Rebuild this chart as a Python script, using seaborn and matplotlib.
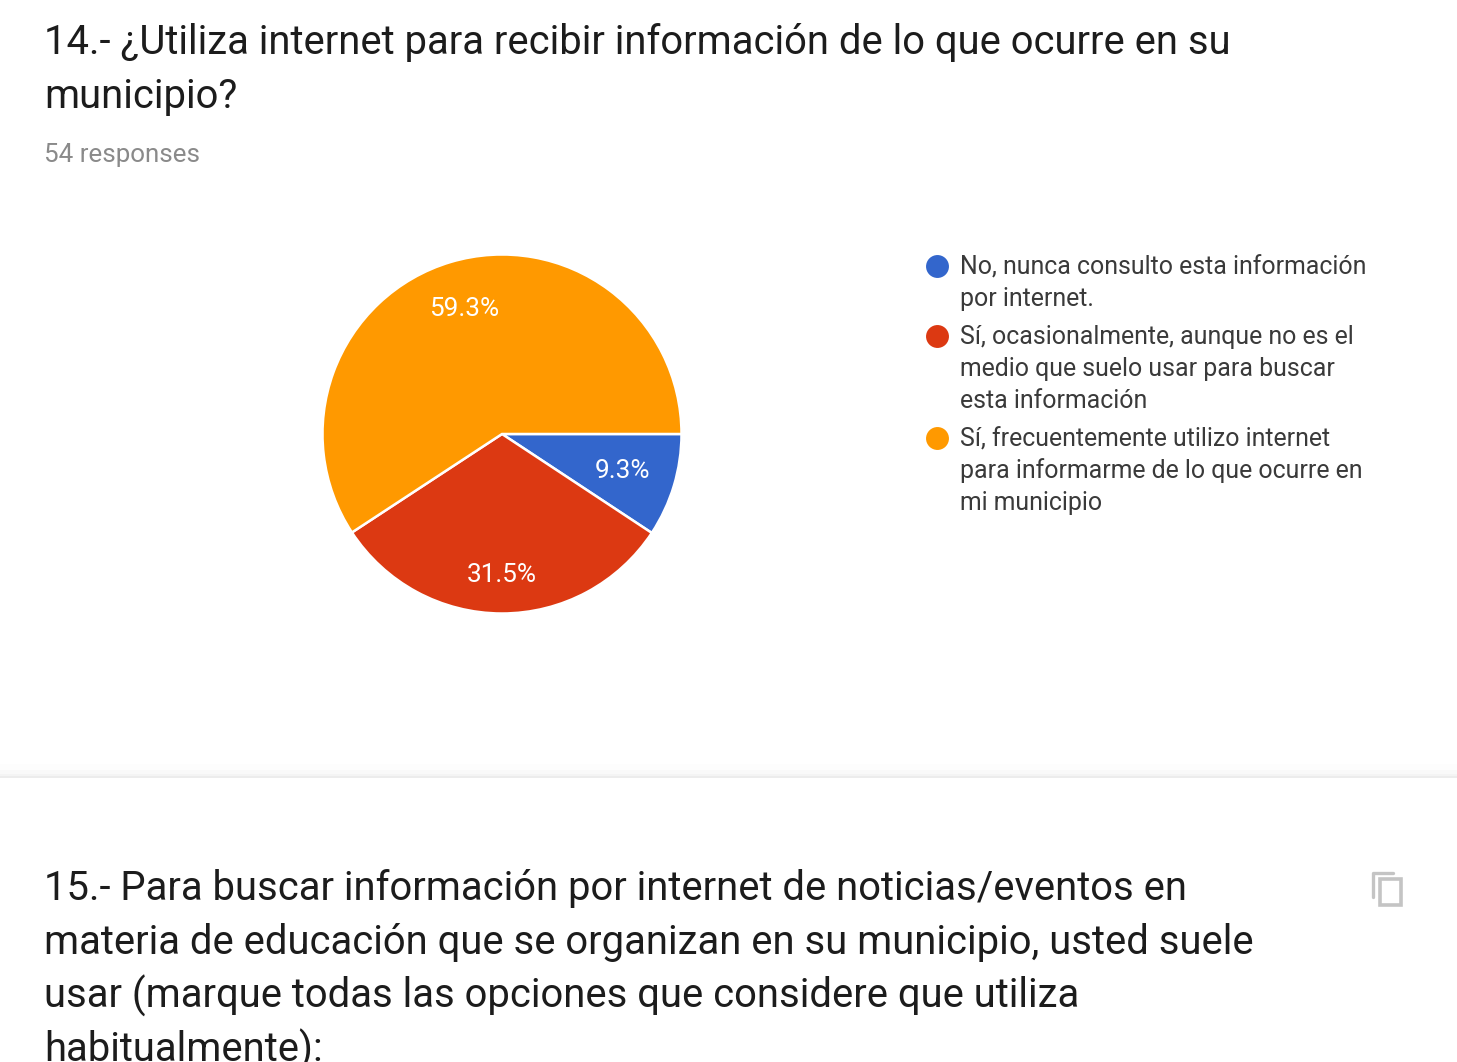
import matplotlib
matplotlib.use("Agg")
import matplotlib.pyplot as plt
import seaborn as sns
from matplotlib.patches import Rectangle

sns.set_style("white")
plt.rcParams['font.family'] = ['Roboto', 'DejaVu Sans']

W, H = 1457, 1062

labels = ["No, nunca consulto esta información\npor internet.",
          "Sí, ocasionalmente, aunque no es el\nmedio que suelo usar para buscar\nesta información",
          "Sí, frecuentemente utilizo internet\npara informarme de lo que ocurre en\nmi municipio"]
shares = [9.3, 31.5, 59.3]
pie_colors = ["#3366cc", "#dc3912", "#ff9900"]
legend_y = [266, 336, 438]

title_14 = ["14.- ¿Utiliza internet para recibir información de lo que ocurre en su", "municipio?"]
title_15 = ["15.- Para buscar información por internet de noticias/eventos en",
            "materia de educación que se organizan en su municipio, usted suele",
            "usar (marque todas las opciones que considere que utiliza",
            "habitualmente):"]

fig = plt.figure(figsize=(W / 100, H / 100), dpi=100, facecolor="white")

# page background goes on the figure so it stays behind the pie
for top, col in [(764, "#fdfdfd"), (770, "#f9f9f9"), (774, "#f4f4f4")]:
    fig.add_artist(Rectangle((0, 1 - 776 / H), 1, (776 - top) / H, color=col, lw=0, transform=fig.transFigure))
fig.add_artist(Rectangle((0, 1 - 778 / H), 1, 2 / H, color="#ececec", lw=0, transform=fig.transFigure))

# pie
cx, cy, r = 502, 434, 179.5
ax = fig.add_axes([(cx - r) / W, 1 - (cy + r) / H, 2 * r / W, 2 * r / H])
wedges, texts = ax.pie(shares, colors=pie_colors, startangle=0, counterclock=False,
                       radius=1, wedgeprops={"edgecolor": "white", "linewidth": 1.8})
ax.set_xlim(-1, 1)
ax.set_ylim(-1, 1)

# text layer in pixel coords
bg = fig.add_axes([0, 0, 1, 1])
bg.set_xlim(0, W)
bg.set_ylim(H, 0)
bg.axis("off")

for i, t in enumerate(title_14):
    bg.text(44, 42 + i * 54, t, fontsize=28.78, color="#1c1c1c", va="center")
bg.text(44, 155, "54 responses", fontsize=18.7, color="#8a8a8a", va="center")
for i, t in enumerate(title_15):
    bg.text(44, 888 + i * 54, t, fontsize=28.78, color="#1c1c1c", va="center")

for lab, col, y in zip(labels, pie_colors, legend_y):
    bg.plot(937, y, "o", ms=16.5, color=col, mec="none")
    for j, line in enumerate(lab.split("\n")):
        bg.text(960, y + 1 + j * 32, line, fontsize=17.9, color="#3a3a3a", va="center")

# copy icon
bg.plot([1373, 1373, 1393], [897, 873, 873], color="#c4c4c4", lw=2.4)
bg.add_patch(Rectangle((1380, 879), 21, 26, fc="none", ec="#c4c4c4", lw=2.6))

label_pos = [(622, 469), (502, 573), (464, 307)]
for s, (x, y) in zip(shares, label_pos):
    bg.text(x, y + 2, f"{s}%", fontsize=18.8, color="white", ha="center", va="center", zorder=10)

fig.savefig("out.png", dpi=100, facecolor="white")
